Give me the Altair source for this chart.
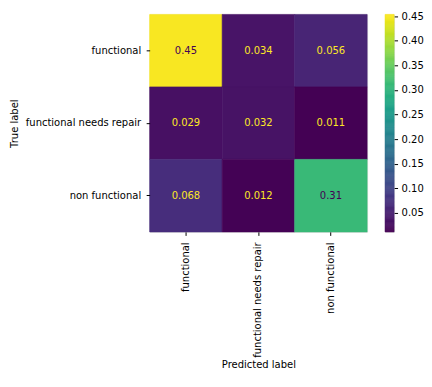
import altair as alt
import pandas as pd

classes = ["functional", "functional needs repair", "non functional"]
# rows = true label, columns = predicted label (normalized confusion matrix)
row_functional = [0.45, 0.034, 0.056]
row_needs_repair = [0.029, 0.032, 0.011]
row_non_functional = [0.068, 0.012, 0.31]
cbar_ticks = [0.05, 0.10, 0.15, 0.20, 0.25, 0.30, 0.35, 0.40, 0.45]
cmin, cmax = 0.0114, 0.4535

matrix = [row_functional, row_needs_repair, row_non_functional]
records = []
for i, t in enumerate(classes):
    for j, p in enumerate(classes):
        records.append({"true": t, "pred": p, "value": matrix[i][j]})
df = pd.DataFrame(records)

FONT = "DejaVu Sans"
cscale = alt.Scale(scheme="viridis", domain=[cmin, cmax])
thr = (cmin + cmax) / 2

base = alt.Chart(df).encode(
    x=alt.X("pred:N", sort=classes, title="Predicted label",
            scale=alt.Scale(paddingInner=0, paddingOuter=0),
            axis=alt.Axis(labelAngle=-90, labelAlign="right", labelBaseline="middle",
                          tickSize=3.5, labelPadding=6.5, titlePadding=2, domain=False,
                          tickColor="black", labelColor="black", titleColor="black",
                          labelFontSize=10, titleFontSize=10, titleFontWeight="normal",
                          labelFont=FONT, titleFont=FONT)),
    y=alt.Y("true:N", sort=classes, title="True label",
            scale=alt.Scale(paddingInner=0, paddingOuter=0),
            axis=alt.Axis(tickSize=3.5, labelPadding=5.5, titlePadding=6, domain=False,
                          tickColor="black", labelColor="black", titleColor="black",
                          labelFontSize=10, titleFontSize=10, titleFontWeight="normal",
                          labelFont=FONT, titleFont=FONT)),
)

rects = base.mark_rect(strokeWidth=0.6).encode(
    color=alt.Color("value:Q", scale=cscale, legend=None),
    stroke=alt.Color("value:Q", scale=cscale, legend=None),
)
texts = base.mark_text(font=FONT, fontSize=10).encode(
    text=alt.Text("value:Q", format=".2g"),
    color=alt.condition(alt.datum.value > thr, alt.value("#440154"), alt.value("#fde725")),
)
heat = (rects + texts).properties(width=218, height=218)

step = (cmax - cmin) / 200
cbar = alt.Chart(alt.sequence(cmin, cmax - step / 2, step, as_="v")).transform_calculate(
    v2=f"datum.v + {step}"
).mark_rect(strokeWidth=0.6).encode(
    y=alt.Y("v:Q", scale=alt.Scale(domain=[cmin, cmax], nice=False, zero=False), title=None,
            axis=alt.Axis(orient="right", values=cbar_ticks, format=".2f", tickSize=3.5,
                          labelPadding=3.5, domain=False, grid=False, tickColor="black",
                          labelColor="black", labelFontSize=10, labelFont=FONT)),
    y2="v2:Q",
    color=alt.Color("v:Q", scale=cscale, legend=None),
    stroke=alt.Color("v:Q", scale=cscale, legend=None),
).properties(width=9, height=218)

chart = alt.hconcat(heat, cbar, spacing=16).properties(
    padding={"left": 0, "top": 2, "right": 0, "bottom": 0}
).configure_view(stroke="black", strokeWidth=1).configure(background="white")

chart.save("out.html", embed_options={"renderer": "svg", "actions": False})
